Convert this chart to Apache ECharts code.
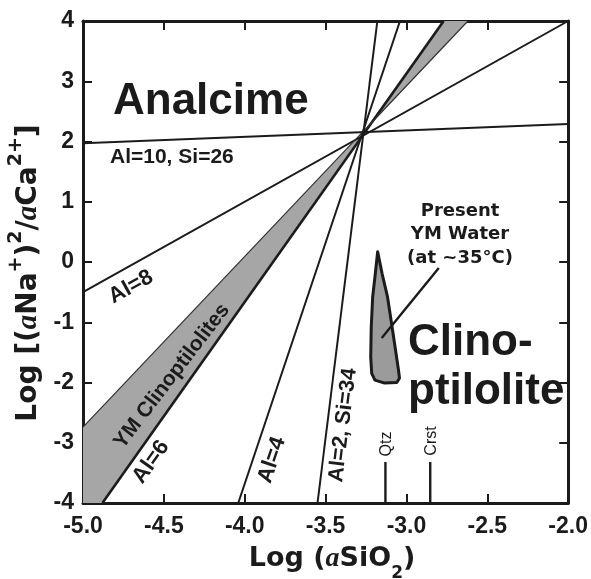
<!DOCTYPE html>
<html><head><meta charset="utf-8">
<script src="https://cdn.jsdelivr.net/npm/echarts@6/dist/echarts.min.js"></script>
<style>html,body{margin:0;padding:0;background:#fff}#c{width:591px;height:579px}</style>
</head><body><div id="c"></div>
<script>
// ---- data ----
const xTickLabels = ['-5.0','-4.5','-4.0','-3.5','-3.0','-2.5','-2.0'];
const yTickLabels = ['-4','-3','-2','-1','0','1','2','3','4'];
const lineAl10 = [[-5, 1.97], [-2, 2.29]];
const lineAl8 = [[-5, -0.5], [-2, 4]];
const lineAl6 = [[-4.88, -4], [-2.77, 4]];
const lineBandUpper = [[-5, -2.74], [-2.62, 4]];
const lineAl4 = [[-4.04, -4], [-3.04, 4]];
const lineAl2 = [[-3.55, -4], [-3.18, 4]];
const bandLower = [[-5, -2.74], [-3.27, 2.14], [-4.88, -4], [-5, -4]];
const bandUpper = [[-3.27, 2.14], [-2.77, 4], [-2.62, 4]];
const waterPoly = [[-3.178, 0.17], [-3.195, -0.25], [-3.209, -0.58], [-3.218, -1.1], [-3.221, -1.58], [-3.215, -1.85], [-3.195, -1.96], [-3.135, -2.01], [-3.06, -2.0], [-3.043, -1.93], [-3.05, -1.78], [-3.086, -1.13], [-3.117, -0.58], [-3.15, -0.2]];
const leader = [[-2.80, -0.10], [-3.153, -1.26]];
const qtzLine = [[-3.13, -4], [-3.13, -3.32]];
const crstLine = [[-2.853, -4], [-2.853, -3.32]];

const FONT = '"Liberation Sans", Arial, Helvetica, sans-serif';
const WIDE = '"DejaVu Sans", Verdana, sans-serif';
const INK = '#1b1b1b';

const chart = echarts.init(document.getElementById('c'), null, {renderer: 'canvas'});

function lineSeries(data, width, color) {
  return {type: 'line', data: data, symbol: 'none', silent: true, animation: false,
    lineStyle: {color: color || INK, width: width}, z: 3};
}
function polySeries(pts, fill, stroke, lw, z) {
  return {type: 'custom', data: [[-4, 0]], silent: true, animation: false, z: z || 2,
    renderItem: function (params, api) {
      return {type: 'polygon', shape: {points: pts.map(p => api.coord(p))},
        style: {fill: fill, stroke: stroke, lineWidth: lw, lineJoin: 'round'}};
    }};
}

const xCommon = {type: 'value', min: -5, max: -2, interval: 0.5,
  axisLine: {show: true, onZero: false, lineStyle: {color: INK, width: 3}},
  axisTick: {show: true, inside: true, length: 9, lineStyle: {color: INK, width: 2}},
  splitLine: {show: false}};
const yCommon = {type: 'value', min: -4, max: 4, interval: 1,
  axisLine: {show: true, onZero: false, lineStyle: {color: INK, width: 3}},
  axisTick: {show: true, inside: true, length: 9, lineStyle: {color: INK, width: 2}},
  splitLine: {show: false}};

function label(text, x, y, deg, size) {
  return {type: 'text', x: x, y: y, rotation: deg * Math.PI / 180, z: 10,
    style: {text: text, fill: INK, font: 'bold ' + size + 'px ' + FONT, align: 'center', verticalAlign: 'middle'}};
}

const option = {
  backgroundColor: '#fff',
  animation: false,
  grid: {left: 83, top: 21, width: 489, height: 482, containLabel: false},
  xAxis: [
    Object.assign({}, xCommon, {position: 'bottom',
      axisLabel: {show: true, margin: 12, color: INK, fontSize: 23, fontWeight: 'bold', fontFamily: FONT,
        formatter: (v, i) => xTickLabels[i]}}),
    Object.assign({}, xCommon, {position: 'top', axisLabel: {show: false}})
  ],
  yAxis: [
    Object.assign({}, yCommon, {position: 'left',
      axisLabel: {show: true, margin: 9, color: INK, fontSize: 23, fontWeight: 'bold', fontFamily: FONT,
        formatter: (v, i) => yTickLabels[i]}}),
    Object.assign({}, yCommon, {position: 'right', axisLabel: {show: false}})
  ],
  series: [
    polySeries(bandLower, '#a6a6a6', null, 0, 1),
    polySeries(bandUpper, '#a6a6a6', null, 0, 1),
    lineSeries(lineAl10, 2),
    lineSeries(lineAl8, 2),
    lineSeries(lineAl6, 2.6),
    lineSeries(lineBandUpper, 1.2, '#333'),
    lineSeries(lineAl4, 2),
    lineSeries(lineAl2, 2),
    polySeries(waterPoly, '#9b9b9b', INK, 3, 4),
    Object.assign(lineSeries(leader, 2.4), {z: 5}),
    lineSeries(qtzLine, 2.4),
    lineSeries(crstLine, 2.4)
  ],
  graphic: [
    {type: 'text', left: 113, top: 80, z: 10, style: {text: 'Analcime', fill: INK, font: 'bold 44px ' + FONT}},
    {type: 'text', x: 110, y: 157, z: 10, style: {text: 'Al=10, Si=26', fill: INK, font: 'bold 21px ' + FONT, verticalAlign: 'middle'}},
    label('Al=8', 131, 287, 29, 22),
    label('YM Clinoptilolites', 172, 376, 52.5, 21),
    label('Al=6', 151, 462, 54.6, 22),
    label('Al=4', 272, 460, 71.3, 22),
    label('Al=2, Si=34', 343, 425, 83, 21.5),
    {type: 'text', x: 460, y: 211, z: 10, style: {text: 'Present', fill: INK, font: 'bold 18px ' + WIDE, align: 'center', verticalAlign: 'middle'}},
    {type: 'text', x: 460, y: 234, z: 10, style: {text: 'YM Water', fill: INK, font: 'bold 18px ' + WIDE, align: 'center', verticalAlign: 'middle'}},
    {type: 'text', x: 460, y: 258, z: 10, style: {text: '(at ~35°C)', fill: INK, font: 'bold 18px ' + WIDE, align: 'center', verticalAlign: 'middle'}},
    {type: 'text', x: 408, y: 343, z: 10, style: {text: 'Clino-', fill: INK, font: 'bold 44px ' + FONT, verticalAlign: 'middle'}},
    {type: 'text', x: 408, y: 392, z: 10, style: {text: 'ptilolite', fill: INK, font: 'bold 44px ' + FONT, verticalAlign: 'middle'}},
    {type: 'text', x: 387, y: 444, rotation: Math.PI / 2, z: 10, style: {text: 'Qtz', fill: INK, font: '16px ' + FONT, align: 'center', verticalAlign: 'middle'}},
    {type: 'text', x: 432, y: 441, rotation: Math.PI / 2, z: 10, style: {text: 'Crst', fill: INK, font: '16px ' + FONT, align: 'center', verticalAlign: 'middle'}},
    {type: 'text', x: 332, y: 559, z: 10, style: {
      text: '{b|Log (}{it|a}{b|SiO}{sub|2}{b|)}', align: 'center', verticalAlign: 'middle',
      rich: {
        b: {font: 'bold 27px ' + WIDE, fill: INK, lineHeight: 34},
        it: {font: 'italic bold 28px "Liberation Serif", serif', fill: INK, lineHeight: 34},
        sub: {font: 'bold 17px ' + WIDE, fill: INK, lineHeight: 34, verticalAlign: 'bottom', padding: [0, 0, -6, 0]}
      }}},
    {type: 'text', x: 25, y: 273, rotation: Math.PI / 2, z: 10, style: {
      text: '{b|Log [(}{it|a}{b|Na}{sup|+}{b|)}{sup|2}{b|/}{it|a}{b|Ca}{sup|2+}{b|]}', align: 'center', verticalAlign: 'middle',
      rich: {
        b: {font: 'bold 28px ' + WIDE, fill: INK, lineHeight: 36, verticalAlign: 'bottom'},
        it: {font: 'italic bold 29px "Liberation Serif", serif', fill: INK, lineHeight: 36, verticalAlign: 'bottom'},
        sup: {font: 'bold 19px ' + WIDE, fill: INK, lineHeight: 36, verticalAlign: 'top'}
      }}}
  ]
};
chart.setOption(option);
</script>
</body></html>
